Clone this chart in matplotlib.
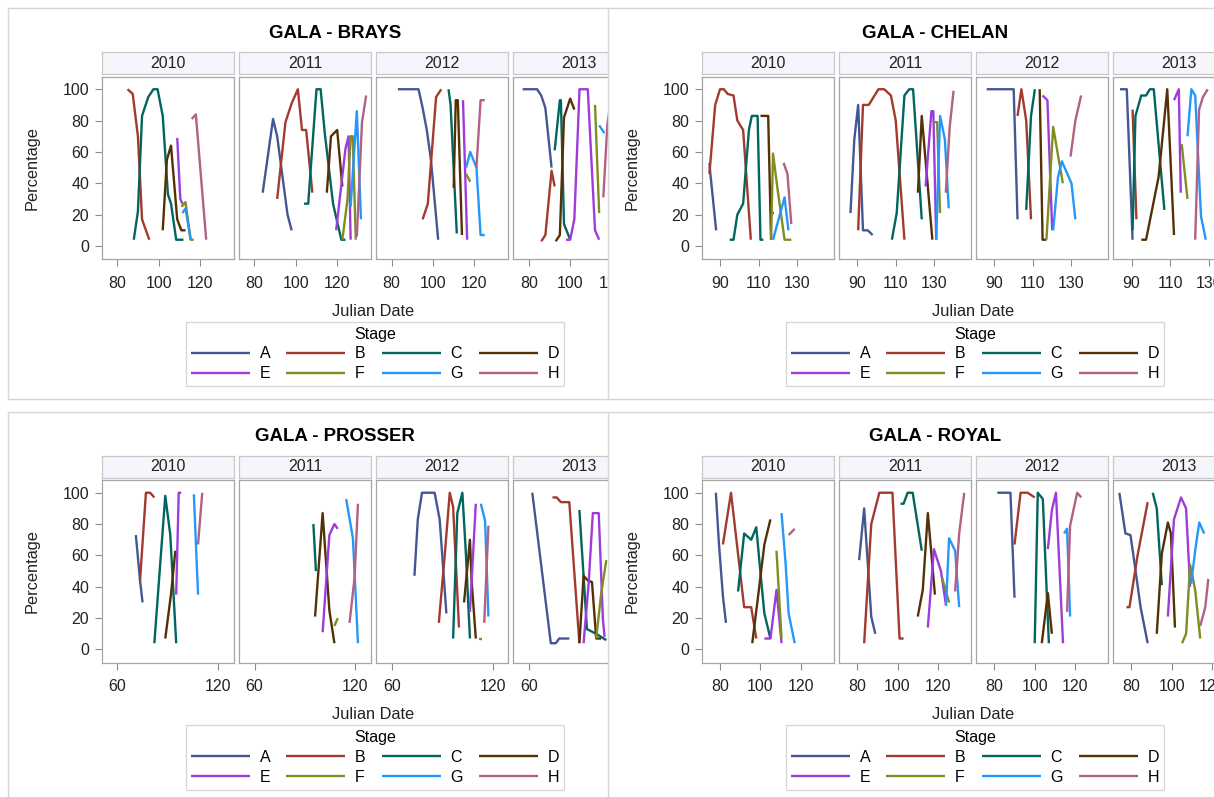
"""
GALA bloom stage curves: four orchards, one facet per year.
Each orchard block is clipped on its right edge, as in the source page.
"""

import matplotlib
matplotlib.use("Agg")
import matplotlib.pyplot as plt
from matplotlib.patches import Rectangle
from matplotlib.lines import Line2D

plt.rcParams["font.family"] = ["Liberation Sans", "DejaVu Sans"]

STAGES = ["A", "B", "C", "D", "E", "F", "G", "H"]
STAGE_COLORS = {
    "A": "#445694", "B": "#A23A2E", "C": "#01665E", "D": "#543005",
    "E": "#9D3CDB", "F": "#7F8E1F", "G": "#2597FA", "H": "#B26084",
}
YEARS = [2010, 2011, 2012, 2013]

# stage -> (julian day, percentage)
BRAYS_2010 = {
    "B": ([85, 87.5, 90, 92, 95.5], [100, 97, 70, 17, 4]),
    "C": ([88, 90, 92, 95, 97.5, 99.5, 102, 104.5, 106, 108.5, 112], [4, 22, 83, 95, 100, 100, 83, 33, 27, 4, 4]),
    "D": ([102, 104, 106, 109, 111, 113], [10, 55, 64, 17, 10, 10]),
    "E": ([109, 110.5, 111.5], [69, 30, 27]),
    "F": ([111, 113, 115.5, 117], [25, 28, 4, 4]),
    "G": ([111.5, 113, 115.5], [21, 24, 4]),
    "H": ([116, 118, 123], [81, 84, 4]),
}
BRAYS_2011 = {
    "A": ([84, 89, 91, 96, 98], [34, 81, 70, 20, 10]),
    "B": ([91, 95, 98, 101, 103, 105, 108], [30, 79, 91, 100, 74, 74, 34]),
    "C": ([104, 106, 110, 112, 114, 116.5, 118, 122, 124], [27, 27, 100, 100, 72, 44, 27, 4, 4]),
    "D": ([115, 117, 120, 122.5], [34, 70, 74, 38]),
    "E": ([119.5, 124, 125.5, 126.5], [10, 62, 70, 4]),
    "F": ([122.5, 125, 126.5, 127.5, 129], [4, 30, 70, 70, 4]),
    "G": ([126.5, 129.5, 131.5], [25, 86, 17]),
    "H": ([129.5, 132, 134], [6, 79, 96]),
}
BRAYS_2012 = {
    "A": ([83, 93, 95, 97, 99, 102.5], [100, 100, 88, 74, 55, 4]),
    "B": ([95, 97.5, 101.5, 104], [17, 27, 95, 100]),
    "C": ([107.5, 108.5, 111.5], [100, 90, 8]),
    "D": ([110, 111, 112, 114], [37, 93, 93, 7]),
    "E": ([114.5, 116.5], [93, 4]),
    "F": ([116, 118], [46, 41]),
    "G": ([116, 118, 121, 123, 125], [50, 60, 50, 7, 7]),
    "H": ([121, 123, 125], [50, 93, 93]),
}
BRAYS_2013 = {
    "A": ([77, 84, 86, 88, 91], [100, 100, 96, 88, 50]),
    "B": ([86, 88, 91, 92.5], [3, 7, 48, 38]),
    "C": ([92.5, 95, 95.5, 97, 100], [61, 93, 93, 14, 4]),
    "D": ([93, 95, 97, 100, 102], [3, 7, 82, 94, 87]),
    "E": ([98, 100, 102, 104.5, 108.5, 112, 114], [4, 4, 17, 100, 100, 10, 4]),
    "F": ([112, 114], [90, 21]),
    "G": ([114, 116.5], [77, 72]),
    "H": ([116, 118, 120], [31, 78, 95]),
}

CHELAN_2010 = {
    "A": ([84.5, 85, 88], [53, 46, 10]),
    "B": ([84.5, 87.5, 90, 92, 94, 97, 99, 102, 106], [46, 90, 100, 100, 97, 96, 80, 74, 4]),
    "C": ([95, 97, 99, 102, 105, 106.5, 109.5, 111, 112.5], [4, 4, 20, 27, 74, 83, 83, 4, 4]),
    "D": ([111, 115, 116.5], [83, 83, 4]),
    "E": ([117, 118], [21, 21]),
    "F": ([116.5, 117.5, 120, 123.5, 127], [4, 59, 35, 4, 4]),
    "G": ([117.5, 123.5, 125.5], [4, 31, 10]),
    "H": ([123, 125, 127], [53, 46, 14]),
}
CHELAN_2011 = {
    "A": ([86.5, 88.5, 90.5, 93, 95.5, 98], [21, 68, 90, 10, 10, 7]),
    "B": ([90.5, 93, 96, 98, 101, 104, 107.5, 110, 114.5], [10, 90, 90, 94, 100, 100, 96, 80, 4]),
    "C": ([108, 110.5, 114.5, 117, 119, 123.5], [4, 21, 96, 100, 100, 17]),
    "D": ([121.5, 123.5, 129], [34, 83, 4]),
    "E": ([125.5, 128.5, 129.5, 131], [38, 86, 86, 4]),
    "F": ([130, 131.5, 133], [79, 79, 21]),
    "G": ([131, 133, 135.5, 137.5], [4, 83, 68, 24]),
    "H": ([136, 138, 140], [34, 76, 99]),
}
CHELAN_2012 = {
    "A": ([86, 100, 102], [100, 100, 17]),
    "B": ([102, 104, 106.5, 109], [83, 100, 80, 17]),
    "C": ([106.5, 109, 111], [23, 83, 100]),
    "D": ([113.5, 115, 117], [100, 4, 4]),
    "E": ([115, 117.5, 120], [96, 93, 10]),
    "F": ([117, 120.5, 125.5], [4, 76, 40]),
    "G": ([120.5, 123, 125, 130, 132], [10, 44, 54, 40, 17]),
    "H": ([129.5, 132, 135], [57, 80, 96]),
}
CHELAN_2013 = {
    "A": ([84, 87.5, 90.5], [100, 100, 4]),
    "B": ([90.5, 92.5], [87, 17]),
    "C": ([90.5, 92, 95, 97.5, 99.5, 101.5, 107], [10, 83, 96, 96, 100, 100, 23]),
    "D": ([95, 97.5, 104, 108.5, 112], [4, 4, 44, 100, 7]),
    "E": ([112, 114.5, 115.5], [93, 100, 34]),
    "F": ([116, 119], [65, 30]),
    "G": ([119, 121, 123, 126, 128.5], [70, 100, 96, 19, 4]),
    "H": ([123, 125, 127, 129.5], [4, 87, 95, 100]),
}

PROSSER_2010 = {
    "A": ([71, 73.5, 75], [73, 44, 30]),
    "B": ([73.5, 75, 77, 79.5, 82], [44, 68, 100, 100, 97]),
    "C": ([82, 88.5, 91.5, 95], [4, 98, 73, 4]),
    "D": ([88.5, 92, 94.5], [7, 36, 63]),
    "E": ([95, 96.5, 98], [35, 100, 100]),
    "G": ([105.5, 108], [99, 35]),
    "H": ([108, 110.5], [67, 100]),
}
PROSSER_2011 = {
    "C": ([95, 96.5], [80, 50]),
    "D": ([96, 100.5, 104.5, 107.5], [21, 87, 25, 4]),
    "E": ([100.5, 104.5, 107.5, 109.5], [11, 73, 80, 77]),
    "F": ([107.5, 109.5], [15, 20]),
    "G": ([114.5, 118.5, 121.5], [96, 71, 4]),
    "H": ([116.5, 119.5, 121.5], [17, 46, 93]),
}
PROSSER_2012 = {
    "A": ([73.5, 75.5, 78, 85.5, 88.5, 92.5], [47, 83, 100, 100, 83, 23]),
    "B": ([88, 91.5, 94.5, 96.5, 100], [17, 60, 100, 91, 14]),
    "C": ([96.5, 99, 102, 104, 106.5], [7, 87, 100, 63, 7]),
    "D": ([103, 106.5, 107.5, 110], [30, 70, 44, 7]),
    "E": ([106.5, 110], [24, 93]),
    "F": ([112, 113.5], [7, 7]),
    "G": ([113, 115.5, 117.5], [93, 82, 21]),
    "H": ([115, 117.5], [17, 79]),
}
PROSSER_2013 = {
    "A": ([62, 73, 76, 78, 84], [100, 4, 4, 7, 7]),
    "B": ([74, 76.5, 79, 84, 90], [97, 97, 94, 94, 4]),
    "C": ([90, 94.5, 100, 106], [89, 13, 10, 6]),
    "D": ([90, 92.5, 95, 97.5, 100, 103], [4, 47, 44, 43, 7, 7]),
    "E": ([92.5, 95.5, 98, 101.5, 104, 105], [4, 42, 87, 87, 19, 8]),
    "F": ([100, 103, 106], [7, 36, 57]),
}

ROYAL_2010 = {
    "A": ([78, 79.5, 81.5, 83], [100, 68, 34, 17]),
    "B": ([81.5, 85.5, 92, 95.5, 98], [67, 100, 27, 27, 7]),
    "C": ([89, 92, 95.5, 98, 100, 102, 105], [37, 74, 70, 78, 50, 23, 7]),
    "D": ([96, 99, 102, 105], [4, 35, 67, 83]),
    "E": ([102, 105, 108, 110.5], [7, 7, 38, 4]),
    "F": ([108, 110.5], [63, 7]),
    "G": ([110.5, 112.5, 114, 117], [87, 55, 23, 4]),
    "H": ([114, 117], [73, 77]),
}
ROYAL_2011 = {
    "A": ([81, 83.5, 87, 89], [57, 90, 21, 10]),
    "B": ([83.5, 87, 91, 97.5, 101, 103], [4, 80, 100, 100, 7, 7]),
    "C": ([101.5, 103, 105, 107.5, 112], [93, 93, 100, 100, 63]),
    "D": ([110, 112.5, 115, 118.5], [21, 38, 87, 35]),
    "E": ([115, 118, 121.5, 124], [14, 64, 50, 28]),
    "F": ([122, 125.5], [46, 30]),
    "G": ([124, 125.5, 128.5, 130.5], [28, 71, 63, 27]),
    "H": ([128.5, 130.5, 133], [37, 74, 100]),
}
ROYAL_2012 = {
    "A": ([81.5, 88, 90], [100, 100, 33]),
    "B": ([90, 93, 96.5, 100], [67, 100, 100, 97]),
    "C": ([100, 101.5, 104, 107], [4, 100, 96, 4]),
    "D": ([103.5, 106.5, 108.5], [4, 36, 10]),
    "E": ([106.5, 108.5, 110.5, 114], [64, 89, 100, 4]),
    "F": ([113, 114], [24, 24]),
    "G": ([114.5, 116, 117.5], [74, 77, 21]),
    "H": ([116, 117.5, 121, 123], [24, 79, 100, 97]),
}
ROYAL_2013 = {
    "A": ([74, 77, 79.5, 81.5, 84.5, 88], [100, 74, 73, 55, 27, 4]),
    "B": ([77.5, 79, 83, 88], [27, 27, 60, 94]),
    "C": ([90.5, 92.5, 95], [100, 90, 41]),
    "D": ([92.5, 95, 98, 99.5, 101.5], [10, 61, 81, 74, 14]),
    "E": ([98, 101, 104.5, 107, 109], [21, 83, 97, 90, 40]),
    "F": ([105, 107, 109, 111.5, 114], [4, 10, 54, 38, 7]),
    "G": ([109.5, 111.5, 113.5, 116], [42, 63, 81, 74]),
    "H": ([114, 116.5, 118], [15, 27, 45]),
}

SITE_TITLES = ["GALA - BRAYS", "GALA - CHELAN", "GALA - PROSSER", "GALA - ROYAL"]
SITE_DATA = [
    [BRAYS_2010, BRAYS_2011, BRAYS_2012, BRAYS_2013],
    [CHELAN_2010, CHELAN_2011, CHELAN_2012, CHELAN_2013],
    [PROSSER_2010, PROSSER_2011, PROSSER_2012, PROSSER_2013],
    [ROYAL_2010, ROYAL_2011, ROYAL_2012, ROYAL_2013],
]
SITE_XLIM = [(72.5, 136.3), (80.5, 149), (50.7, 129.2), (71, 136.3)]
SITE_XTICKS = [[80, 100, 120], [90, 110, 130], [60, 120], [80, 100, 120]]

# ---- layout (pixels) ----
W, H = 1214, 797
OFFSETS = [(0, 0), (600, 0), (0, 403.5), (600, 403.5)]
HEADER_FILL = "#F4F6FB"
HEADER_EDGE = "#C8C8C8"
FRAME_EDGE = "#A6A6A6"
BOX_EDGE = "#D6D6D6"
TXT = "#222222"


def fbox(x, y, w, h):
    return [x / W, 1 - (y + h) / H, w / W, h / H]


def fpt(x, y):
    return x / W, 1 - y / H


fig = plt.figure(figsize=(W / 100, H / 100), dpi=100)

# left blocks sit under this white sheet, so they look clipped at x=607.7
fig.add_artist(Rectangle(fpt(607.7, H), 1 - 607.7 / W, 1, transform=fig.transFigure,
                         facecolor="white", edgecolor="none", zorder=1))

LEGEND_ORDER = ["A", "E", "B", "F", "C", "G", "D", "H"]  # column-major -> rows A-D / E-H

for k, (ox, oy) in enumerate(OFFSETS):
    z = 0 if ox == 0 else 2
    handles = {}
    for i, year in enumerate(YEARS):
        left = ox + 101.7 + i * 137.2

        hax = fig.add_axes(fbox(left, oy + 52.3, 132, 21.7), zorder=z)
        hax.set_facecolor(HEADER_FILL)
        hax.set_xticks([])
        hax.set_yticks([])
        for sp in hax.spines.values():
            sp.set_color(HEADER_EDGE)
            sp.set_linewidth(0.9)
        hax.text(0.5, 0.5, str(year), transform=hax.transAxes, ha="center", va="center",
                 fontsize=11.5, color=TXT)

        ax = fig.add_axes(fbox(left, oy + 76.7, 132, 182.3), zorder=z)
        data = SITE_DATA[k][i]
        for s in STAGES:
            if s not in data:
                continue
            days, pct = data[s]
            ln, = ax.plot(days, pct, color=STAGE_COLORS[s], lw=1.7,
                          solid_joinstyle="round", solid_capstyle="butt")
            handles.setdefault(s, ln)
        ax.set_xlim(SITE_XLIM[k])
        ax.set_ylim(-8.3, 108)
        ax.set_xticks(SITE_XTICKS[k])
        ax.set_yticks(range(0, 101, 20))
        for sp in ax.spines.values():
            sp.set_color(FRAME_EDGE)
            sp.set_linewidth(0.9)
        ax.tick_params(length=5, width=0.8, color="#8C8C8C", labelsize=11.5,
                       labelcolor=TXT, pad=4)
        ax.tick_params(axis="x", pad=7)
        if i > 0:
            ax.tick_params(axis="y", left=False, labelleft=False)

    fig.text(*fpt(ox + 335, oy + 33), SITE_TITLES[k], ha="center", va="center",
             fontsize=13.4, fontweight="bold", color="black")
    fig.text(*fpt(ox + 32, oy + 167.8), "Percentage", rotation=90, ha="center",
             va="center", fontsize=11.8, color=TXT)
    fig.text(*fpt(ox + 373.5, oy + 311), "Julian Date", ha="center", va="center",
             fontsize=11.8, color=TXT)

    leg = fig.legend([handles[s] for s in LEGEND_ORDER], LEGEND_ORDER, ncol=4,
                     loc="center", bbox_to_anchor=fpt(ox + 375, oy + 354),
                     title="Stage", fontsize=11.5, title_fontsize=11.5,
                     frameon=True, fancybox=False, edgecolor=BOX_EDGE, framealpha=1,
                     handlelength=3.7, handletextpad=0.6, columnspacing=1.0,
                     labelspacing=0.3, borderpad=0.3, borderaxespad=0)
    leg.get_frame().set_linewidth(0.9)
    leg.set_zorder(5)

# outer boxes of the four blocks
for xs, ys in [
    ([7.5, 7.5], [8.3, 399.3]), ([7.5, W], [8.3, 8.3]), ([7.5, W], [399.3, 399.3]),
    ([607.7, 607.7], [8.3, 399.3]),
    ([7.5, 7.5], [411.7, H]), ([7.5, W], [411.7, 411.7]), ([607.7, 607.7], [411.7, H]),
]:
    fig.add_artist(Line2D([x / W for x in xs], [1 - y / H for y in ys],
                          transform=fig.transFigure, color=BOX_EDGE, lw=1.0, zorder=4))

fig.savefig("out.png", dpi=100)
